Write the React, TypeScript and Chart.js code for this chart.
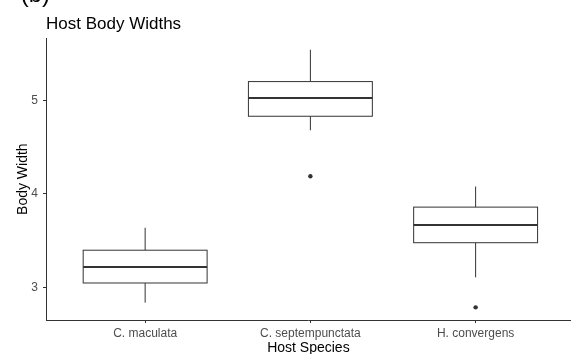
import React, { useEffect, useRef } from "react";
import { Chart, registerables } from "chart.js";

Chart.register(...registerables);

const categories = ["C. maculata", "C. septempunctata", "H. convergens"];
const whiskerLow = [2.84, 4.68, 3.11];
const q1 = [3.05, 4.83, 3.48];
const median = [3.22, 5.025, 3.67];
const q3 = [3.4, 5.2, 3.86];
const whiskerHigh = [3.64, 5.54, 4.08];
const outlierCat = [2, 3];
const outlierVal = [4.19, 2.79];
const yTicks = [3, 4, 5];
const xTicks = [1, 2, 3];

const FONT = "'Liberation Sans', Arial, sans-serif";

const boxPlugin = {
  id: "boxes",
  beforeDatasetsDraw(chart: any) {
    const { ctx, scales } = chart;
    const xs = scales.x;
    const ys = scales.y;
    ctx.save();
    ctx.strokeStyle = "#333333";
    for (let i = 0; i < categories.length; i++) {
      const c = i + 1;
      const xc = xs.getPixelForValue(c);
      const xl = xs.getPixelForValue(c - 0.375);
      const xr = xs.getPixelForValue(c + 0.375);
      const yLo = ys.getPixelForValue(whiskerLow[i]);
      const yQ1 = ys.getPixelForValue(q1[i]);
      const yMed = ys.getPixelForValue(median[i]);
      const yQ3 = ys.getPixelForValue(q3[i]);
      const yHi = ys.getPixelForValue(whiskerHigh[i]);
      ctx.lineWidth = 1;
      ctx.beginPath();
      ctx.moveTo(xc, yHi);
      ctx.lineTo(xc, yQ3);
      ctx.moveTo(xc, yQ1);
      ctx.lineTo(xc, yLo);
      ctx.stroke();
      ctx.fillStyle = "#ffffff";
      ctx.fillRect(xl, yQ3, xr - xl, yQ1 - yQ3);
      ctx.strokeRect(xl, yQ3, xr - xl, yQ1 - yQ3);
      ctx.lineWidth = 2;
      ctx.beginPath();
      ctx.moveTo(xl, yMed);
      ctx.lineTo(xr, yMed);
      ctx.stroke();
    }
    ctx.restore();
  },
  afterDraw(chart: any) {
    const { ctx, chartArea } = chart;
    ctx.save();
    ctx.fillStyle = "#000000";
    ctx.textBaseline = "alphabetic";
    ctx.textAlign = "left";
    ctx.font = `17px ${FONT}`;
    ctx.fillText("Host Body Widths", chartArea.left, 28.5);
    ctx.textAlign = "right";
    ctx.font = `24px ${FONT}`;
    ctx.fillText("(b)", 50, 2);
    ctx.restore();
  },
};

export default function App() {
  const ref = useRef<HTMLCanvasElement | null>(null);
  useEffect(() => {
    if (!ref.current) return;
    const chart = new Chart(ref.current, {
      type: "scatter",
      data: {
        datasets: [
          {
            data: outlierCat.map((c, i) => ({ x: c, y: outlierVal[i] })),
            backgroundColor: "#333333",
            borderColor: "#333333",
            pointRadius: 2.2,
            pointHoverRadius: 2.2,
            borderWidth: 0,
          },
        ],
      },
      options: {
        responsive: false,
        animation: false,
        devicePixelRatio: 1,
        layout: { padding: { top: 38.3, left: 0, right: -3, bottom: 0 } },
        plugins: {
          legend: { display: false },
          tooltip: { enabled: false },
          title: { display: false },
        },
        scales: {
          x: {
            type: "linear",
            min: 0.4,
            max: 3.576,
            afterBuildTicks: (s: any) => {
              s.ticks = xTicks.map((v) => ({ value: v }));
            },
            afterFit: (s: any) => {
              s.height = 34;
            },
            ticks: {
              callback: (v: any) => categories[Number(v) - 1] ?? "",
              color: "#4d4d4d",
              font: { family: FONT, size: 12 },
              padding: 3,
              maxRotation: 0,
              autoSkip: false,
            },
            grid: {
              drawOnChartArea: false,
              drawTicks: true,
              tickLength: 3,
              tickColor: "#333333",
              tickWidth: 1,
            },
            border: { display: true, color: "#333333", width: 1 },
            title: {
              display: true,
              text: "Host Species",
              color: "#000000",
              font: { family: FONT, size: 14, lineHeight: 1 },
              padding: { top: 0, bottom: -1 },
            },
          },
          y: {
            type: "linear",
            min: 2.655,
            max: 5.662,
            afterBuildTicks: (s: any) => {
              s.ticks = yTicks.map((v) => ({ value: v }));
            },
            afterFit: (s: any) => {
              s.width = 46;
            },
            ticks: {
              color: "#4d4d4d",
              font: { family: FONT, size: 12 },
              padding: 5,
            },
            grid: {
              drawOnChartArea: false,
              drawTicks: true,
              tickLength: 3,
              tickColor: "#333333",
              tickWidth: 1,
            },
            border: { display: true, color: "#333333", width: 1 },
            title: {
              display: true,
              text: "Body Width",
              color: "#000000",
              font: { family: FONT, size: 14, lineHeight: 1 },
              padding: { top: 15.7, bottom: 0 },
            },
          },
        },
      },
      plugins: [boxPlugin],
    });
    return () => chart.destroy();
  }, []);
  return (
    <div style={{ position: "fixed", left: 0, top: 0, width: 573, height: 354, background: "#ffffff" }}>
      <canvas ref={ref} width={573} height={354} style={{ display: "block", width: 573, height: 354 }} />
    </div>
  );
}
